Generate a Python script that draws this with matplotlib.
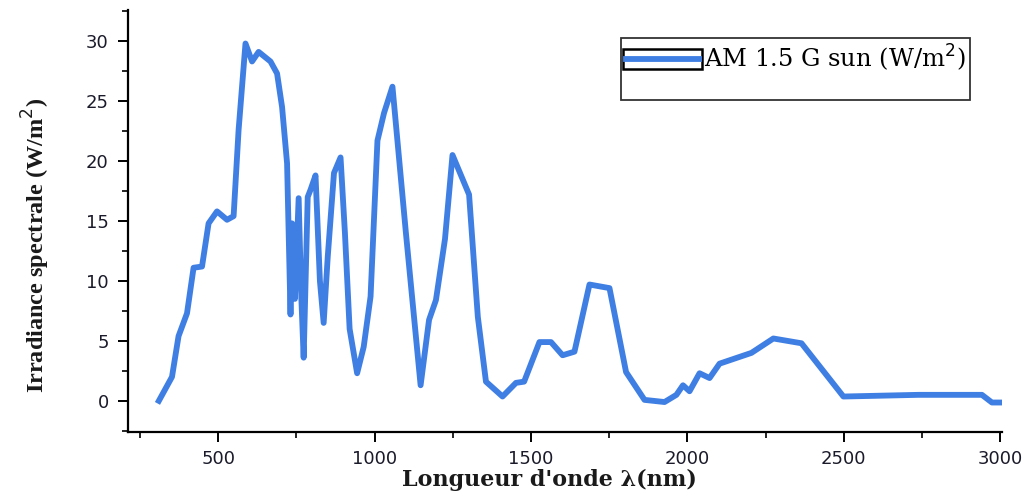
import matplotlib
matplotlib.use('Agg')
from matplotlib import pyplot as plt
from matplotlib.legend_handler import HandlerLine2D
from matplotlib.patches import Rectangle
from matplotlib.ticker import MultipleLocator

# AM 1.5 G spectrum
wavelength = [310, 352, 373, 400, 421, 448, 469, 496, 528, 549, 565, 587, 608, 629,
              667, 688, 704, 720, 731, 736, 745, 757, 765, 773, 786, 795, 811, 825,
              837, 850, 870, 891, 905, 920, 944, 965, 987, 1009, 1030, 1057, 1100,
              1147, 1174, 1196, 1225, 1249, 1302, 1330, 1356, 1409, 1452, 1478,
              1527, 1564, 1601, 1639, 1687, 1751, 1804, 1863, 1927, 1965, 1986,
              2007, 2039, 2071, 2103, 2205, 2275, 2365, 2499, 2739, 2942, 2974, 3006]
irradiance = [0.0, 2.0, 5.4, 7.3, 11.1, 11.2, 14.8, 15.8, 15.1, 15.4, 22.6, 29.8,
              28.3, 29.1, 28.3, 27.3, 24.5, 19.8, 7.2, 14.8, 8.5, 16.9, 9.0, 3.6,
              17.0, 17.6, 18.8, 10.0, 6.5, 12.0, 19.0, 20.3, 14.0, 6.0, 2.3, 4.5,
              8.7, 21.7, 24.0, 26.2, 14.0, 1.3, 6.75, 8.4, 13.5, 20.5, 17.2, 7.0,
              1.6, 0.36, 1.5, 1.6, 4.9, 4.9, 3.8, 4.1, 9.7, 9.4, 2.4, 0.08, -0.1,
              0.5, 1.3, 0.8, 2.3, 1.9, 3.1, 4.0, 5.2, 4.8, 0.36, 0.5, 0.5, -0.14,
              -0.14]

line_color = '#3f7fe3'


class BoxedLineHandler(HandlerLine2D):
    # Origin style legend sample: a blue line inside a thin black box
    def create_artists(self, legend, orig_handle, xdescent, ydescent,
                       width, height, fontsize, trans):
        box = Rectangle((-xdescent - 2, -ydescent - 0.1 * height), width + 4,
                        1.2 * height, facecolor='none', edgecolor='black',
                        linewidth=1.8, transform=trans)
        artists = super().create_artists(legend, orig_handle, xdescent, ydescent,
                                         width, height, fontsize, trans)
        return [box] + artists


fig = plt.figure(figsize=(10.34, 4.96), dpi=100)
ax = fig.add_axes([0.124, 0.129, 0.845, 0.851])

line, = ax.plot(wavelength, irradiance, color=line_color, lw=4.2,
                solid_joinstyle='round', label='AM 1.5 G sun (W/m$^2$)')

ax.set_xlim(212, 3006)
ax.set_ylim(-2.6, 32.6)
ax.xaxis.set_major_locator(MultipleLocator(500))
ax.xaxis.set_minor_locator(MultipleLocator(250))
ax.yaxis.set_major_locator(MultipleLocator(5))
ax.yaxis.set_minor_locator(MultipleLocator(2.5))

for side in ['top', 'right']:
    ax.spines[side].set_visible(False)
for side in ['left', 'bottom']:
    ax.spines[side].set_linewidth(1.6)
ax.tick_params(which='major', direction='out', length=7, width=1.4,
               labelsize=13, labelcolor='#1a1a2a')
ax.tick_params(axis='x', which='major', pad=6)
ax.tick_params(axis='y', which='major', pad=7)
ax.tick_params(which='minor', direction='out', length=4, width=1.2)
for lab in ax.get_xticklabels() + ax.get_yticklabels():
    lab.set_family('DejaVu Sans')

ax.set_xlabel("Longueur d'onde λ(nm)", family='DejaVu Serif',
              fontweight='bold', fontsize=16, va='center', color='#1a1a1a')
ax.xaxis.set_label_coords(0.482, -0.114)
ax.set_ylabel('Irradiance spectrale (W/m$^2$)', family='Liberation Serif',
              fontweight='bold', fontsize=17.5, va='center', color='#1a1a1a')
ax.yaxis.set_label_coords(-0.106, 0.443)

blank, = ax.plot([], [], color='none', label=' ')
leg = ax.legend(handles=[line, blank], loc='upper left',
                bbox_to_anchor=(0.564, 0.934), fancybox=False, framealpha=1,
                edgecolor='#333333', handlelength=3.0, handletextpad=0.2,
                borderpad=0.2, labelspacing=0.1, borderaxespad=0,
                prop={'family': 'DejaVu Serif', 'size': 17.5},
                handler_map={line: BoxedLineHandler()})
leg.get_texts()[1].set_fontsize(8)
leg.get_frame().set_linewidth(1.3)

fig.savefig('out.png', dpi=100)
